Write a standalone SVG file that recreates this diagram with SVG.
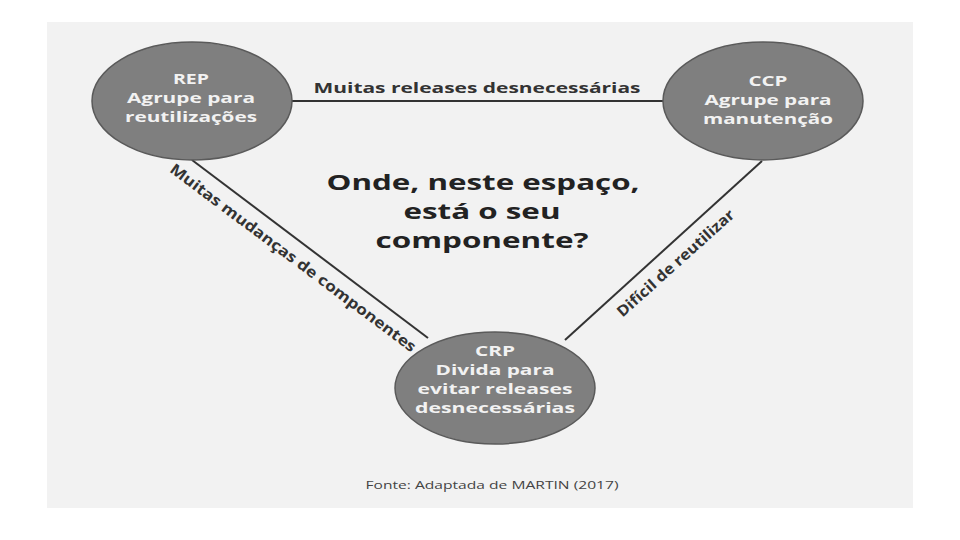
<svg xmlns="http://www.w3.org/2000/svg" width="960" height="540" viewBox="0 0 960 540">
<style>
.node{fill:#7f7f7f;stroke:#5a5a5a;stroke-width:1.5}
.nt{font-family:"Open Sans","DejaVu Sans",sans-serif;font-weight:bold;font-size:15px;fill:#f2f2f2;text-anchor:middle}
.edge{stroke:#333;stroke-width:2;fill:none}
.el{font-family:"Open Sans","DejaVu Sans",sans-serif;font-weight:bold;font-size:15px;fill:#333;text-anchor:middle}
.q{font-family:"Open Sans","DejaVu Sans",sans-serif;font-weight:bold;font-size:21px;fill:#222;text-anchor:middle}
.src{font-family:"Open Sans","DejaVu Sans",sans-serif;font-size:11px;fill:#444;text-anchor:middle}
</style>
<rect x="47" y="22" width="866" height="486" fill="#f2f2f2"/>
<g id="connectors">
<line class="edge" x1="292" y1="101" x2="663" y2="101"/>
<line class="edge" x1="192" y1="160" x2="428" y2="338"/>
<line class="edge" x1="762" y1="161" x2="565" y2="340"/>
<text class="el" x="477" y="93" textLength="327" lengthAdjust="spacingAndGlyphs">Muitas releases desnecessárias</text>
<text class="el" transform="translate(290,262) rotate(36.8)" textLength="303" lengthAdjust="spacingAndGlyphs">Muitas mudanças de componentes</text>
<text class="el" transform="translate(679,267) rotate(-42)" textLength="152" lengthAdjust="spacingAndGlyphs">Difícil de reutilizar</text>
</g>
<g id="rep">
<ellipse class="node" cx="192" cy="101" rx="100" ry="59"/>
<text class="nt" x="191" y="84" textLength="36" lengthAdjust="spacingAndGlyphs">REP</text>
<text class="nt" x="191" y="103" textLength="128" lengthAdjust="spacingAndGlyphs">Agrupe para</text>
<text class="nt" x="191" y="122" textLength="132" lengthAdjust="spacingAndGlyphs">reutilizações</text>
</g>
<g id="ccp">
<ellipse class="node" cx="763" cy="101" rx="100" ry="59"/>
<text class="nt" x="768" y="86" textLength="39" lengthAdjust="spacingAndGlyphs">CCP</text>
<text class="nt" x="768" y="105" textLength="127" lengthAdjust="spacingAndGlyphs">Agrupe para</text>
<text class="nt" x="768" y="124" textLength="130" lengthAdjust="spacingAndGlyphs">manutenção</text>
</g>
<g id="crp">
<ellipse class="node" cx="495" cy="388" rx="100" ry="56"/>
<text class="nt" x="495" y="356" textLength="40" lengthAdjust="spacingAndGlyphs">CRP</text>
<text class="nt" x="495" y="375" textLength="119" lengthAdjust="spacingAndGlyphs">Divida para</text>
<text class="nt" x="495" y="394" textLength="155" lengthAdjust="spacingAndGlyphs">evitar releases</text>
<text class="nt" x="495" y="413" textLength="160" lengthAdjust="spacingAndGlyphs">desnecessárias</text>
</g>
<g id="question">
<text class="q" x="483" y="190" textLength="313" lengthAdjust="spacingAndGlyphs">Onde, neste espaço,</text>
<text class="q" x="482" y="219" textLength="157" lengthAdjust="spacingAndGlyphs">está o seu</text>
<text class="q" x="482" y="248" textLength="213" lengthAdjust="spacingAndGlyphs">componente?</text>
</g>
<text class="src" x="492" y="489" textLength="253" lengthAdjust="spacingAndGlyphs">Fonte: Adaptada de MARTIN (2017)</text>
</svg>
